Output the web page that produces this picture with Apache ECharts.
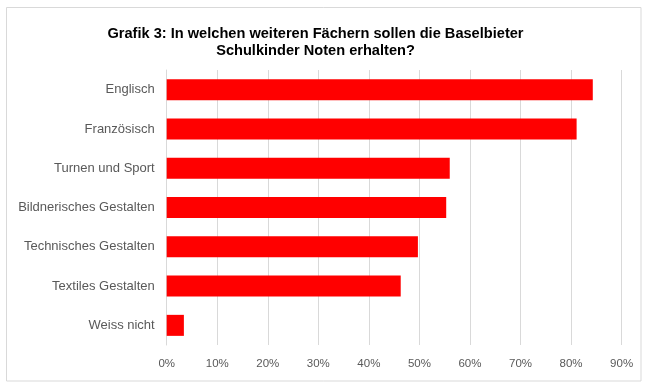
<!DOCTYPE html>
<html>
<head>
<meta charset="utf-8">
<script src="https://cdn.jsdelivr.net/npm/echarts@6/dist/echarts.min.js"></script>
<style>
html,body{margin:0;padding:0;background:#fff;}
#c{width:653px;height:384px;}
</style>
</head>
<body>
<div id="c"></div>
<script>
const categories = ["Englisch","Französisch","Turnen und Sport","Bildnerisches Gestalten","Technisches Gestalten","Textiles Gestalten","Weiss nicht"];
const values = [84.3, 81.1, 56.0, 55.3, 49.7, 46.3, 3.4];
const titleLines = ["Grafik 3: In welchen weiteren Fächern sollen die Baselbieter", "Schulkinder Noten erhalten?"];

const chart = echarts.init(document.getElementById('c'), null, {renderer:'canvas'});
chart.setOption({
  animation:false,
  backgroundColor:'#fff',
  graphic:[
    {type:'rect', shape:{x:6.5,y:7.5,width:634.5,height:373.5}, style:{fill:'none', stroke:'#d9d9d9', lineWidth:1}, silent:true, z:-1}
  ],
  title:{
    text: titleLines.join('\n'),
    left:310.5, top:21, textAlign:'center',
    textStyle:{fontFamily:'Liberation Sans, Arial, sans-serif', fontSize:14.6, fontWeight:'bold', color:'#000', lineHeight:16.5}
  },
  grid:{left:166.7, right:31.4, top:70, bottom:39, containLabel:false},
  xAxis:{
    type:'value', min:0, max:90, interval:10,
    axisLine:{show:false}, axisTick:{show:false},
    splitLine:{show:true, lineStyle:{color:'#d9d9d9', width:1}},
    axisLabel:{formatter:'{value}%', color:'#595959', fontSize:11.5, margin:13, fontFamily:'Liberation Sans, Arial, sans-serif'}
  },
  yAxis:{
    type:'category', data:categories, inverse:true,
    axisLine:{show:true, lineStyle:{color:'#d9d9d9'}}, axisTick:{show:false},
    axisLabel:{color:'#595959', fontSize:13, margin:12, fontFamily:'Liberation Sans, Arial, sans-serif'}
  },
  series:[{
    type:'bar', data:values, barCategoryGap:'46.5%',
    itemStyle:{color:'#ff0000'}
  }]
});
</script>
</body>
</html>
